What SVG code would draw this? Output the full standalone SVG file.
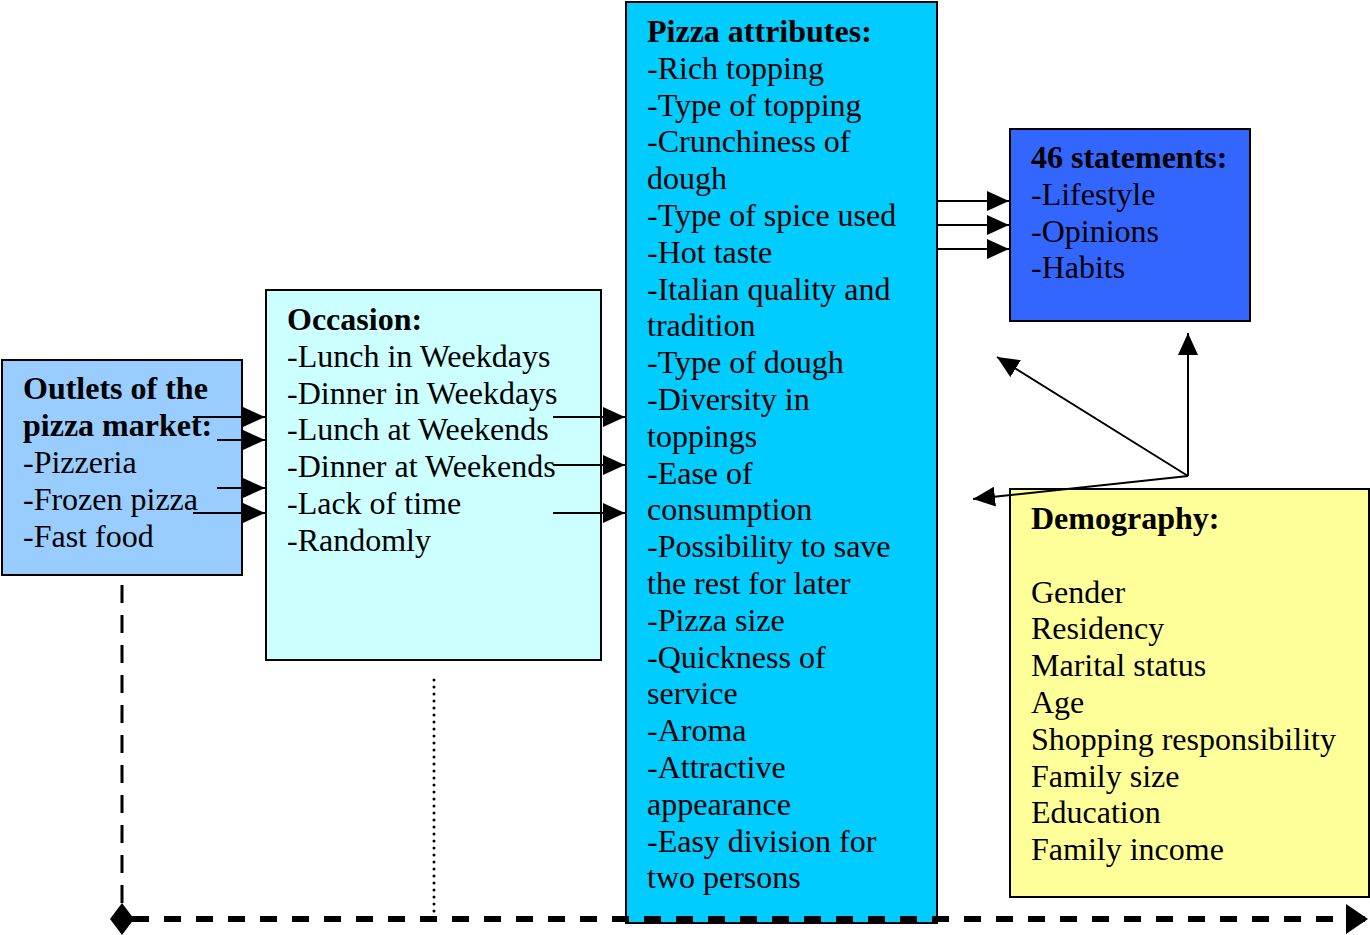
<svg xmlns="http://www.w3.org/2000/svg" width="1370" height="935" viewBox="0 0 1370 935">
<style>
.box{stroke:#000;stroke-width:2}
text{font-family:"Liberation Serif","Times New Roman",serif;font-size:32px;fill:#000}
.b{font-weight:bold}
.ln{stroke:#000;stroke-width:2;fill:none}
</style>
<defs>
<marker id="ah" markerUnits="userSpaceOnUse" markerWidth="22" markerHeight="20" viewBox="0 0 22 20" refX="22" refY="10" orient="auto">
<path d="M0,0 L22,10 L0,20 Z" fill="#000"/>
</marker>
<marker id="bah" markerUnits="userSpaceOnUse" markerWidth="22" markerHeight="30" viewBox="0 0 22 30" refX="22" refY="15" orient="auto">
<path d="M0,0 L22,15 L0,30 Z" fill="#000"/>
</marker>
</defs>
<rect width="1370" height="935" fill="#fff"/>
<g id="outlets">
<rect class="box" x="2" y="360" width="240" height="215" fill="#99CCFF"/>
<text x="23" y="399" class="b">Outlets of the</text>
<text x="23" y="436" class="b">pizza market:</text>
<text x="23" y="473">-Pizzeria</text>
<text x="23" y="510">-Frozen pizza</text>
<text x="23" y="547">-Fast food</text>
</g>
<g id="occasion">
<rect class="box" x="266" y="290" width="335" height="370" fill="#CCFFFF"/>
<text x="287" y="330" class="b">Occasion:</text>
<text x="287" y="366.8">-Lunch in Weekdays</text>
<text x="287" y="403.6">-Dinner in Weekdays</text>
<text x="287" y="440.4">-Lunch at Weekends</text>
<text x="287" y="477.2">-Dinner at Weekends</text>
<text x="287" y="514">-Lack of time</text>
<text x="287" y="550.8">-Randomly</text>
</g>
<g id="pizza">
<rect class="box" x="626" y="2" width="311" height="921" fill="#00CCFF"/>
<text x="647" y="42" class="b">Pizza attributes:</text>
<text x="647" y="78.8">-Rich topping</text>
<text x="647" y="115.6">-Type of topping</text>
<text x="647" y="152.4">-Crunchiness of</text>
<text x="647" y="189.2">dough</text>
<text x="647" y="226">-Type of spice used</text>
<text x="647" y="262.8">-Hot taste</text>
<text x="647" y="299.6">-Italian quality and</text>
<text x="647" y="336.4">tradition</text>
<text x="647" y="373.2">-Type of dough</text>
<text x="647" y="410">-Diversity in</text>
<text x="647" y="446.8">toppings</text>
<text x="647" y="483.6">-Ease of</text>
<text x="647" y="520.4">consumption</text>
<text x="647" y="557.2">-Possibility to save</text>
<text x="647" y="594">the rest for later</text>
<text x="647" y="630.8">-Pizza size</text>
<text x="647" y="667.6">-Quickness of</text>
<text x="647" y="704.4">service</text>
<text x="647" y="741.2">-Aroma</text>
<text x="647" y="778">-Attractive</text>
<text x="647" y="814.8">appearance</text>
<text x="647" y="851.6">-Easy division for</text>
<text x="647" y="888.4">two persons</text>
</g>
<g id="statements">
<rect class="box" x="1010" y="129" width="240" height="192" fill="#3366FF"/>
<text x="1031" y="168" class="b">46 statements:</text>
<text x="1031" y="204.8">-Lifestyle</text>
<text x="1031" y="241.6">-Opinions</text>
<text x="1031" y="278.4">-Habits</text>
</g>
<g id="demography">
<rect class="box" x="1010" y="489" width="359" height="408" fill="#FFFF99"/>
<text x="1031" y="529" class="b">Demography:</text>
<text x="1031" y="602.6">Gender</text>
<text x="1031" y="639.4">Residency</text>
<text x="1031" y="676.2">Marital status</text>
<text x="1031" y="713">Age</text>
<text x="1031" y="749.8">Shopping responsibility</text>
<text x="1031" y="786.6">Family size</text>
<text x="1031" y="823.4">Education</text>
<text x="1031" y="860.2">Family income</text>
</g>
<g id="connectors">
<line class="ln" x1="193" y1="417" x2="265" y2="417" marker-end="url(#ah)"/>
<line class="ln" x1="217" y1="440" x2="265" y2="440" marker-end="url(#ah)"/>
<line class="ln" x1="217" y1="488" x2="265" y2="488" marker-end="url(#ah)"/>
<line class="ln" x1="193" y1="513" x2="265" y2="513" marker-end="url(#ah)"/>
<line class="ln" x1="553" y1="417" x2="625" y2="417" marker-end="url(#ah)"/>
<line class="ln" x1="553" y1="465" x2="625" y2="465" marker-end="url(#ah)"/>
<line class="ln" x1="553" y1="513" x2="625" y2="513" marker-end="url(#ah)"/>
<line class="ln" x1="937" y1="201" x2="1009" y2="201" marker-end="url(#ah)"/>
<line class="ln" x1="937" y1="225" x2="1009" y2="225" marker-end="url(#ah)"/>
<line class="ln" x1="937" y1="249" x2="1009" y2="249" marker-end="url(#ah)"/>
<line class="ln" x1="1188" y1="476" x2="1188" y2="333" marker-end="url(#ah)"/>
<line class="ln" x1="1188" y1="476" x2="997" y2="357" marker-end="url(#ah)"/>
<line class="ln" x1="1188" y1="476" x2="973" y2="499" marker-end="url(#ah)"/>
<line x1="122" y1="585" x2="122" y2="908" stroke="#000" stroke-width="3" stroke-dasharray="18 12"/>
<line x1="434" y1="680" x2="434" y2="914" stroke="#000" stroke-width="3" stroke-linecap="round" stroke-dasharray="0 7"/>
<line x1="132" y1="919" x2="1368" y2="919" stroke="#000" stroke-width="6" stroke-dasharray="17 15" marker-end="url(#bah)"/>
<path d="M122,903 L134,919 L122,935 L110,919 Z" fill="#000"/>
</g>
</svg>
